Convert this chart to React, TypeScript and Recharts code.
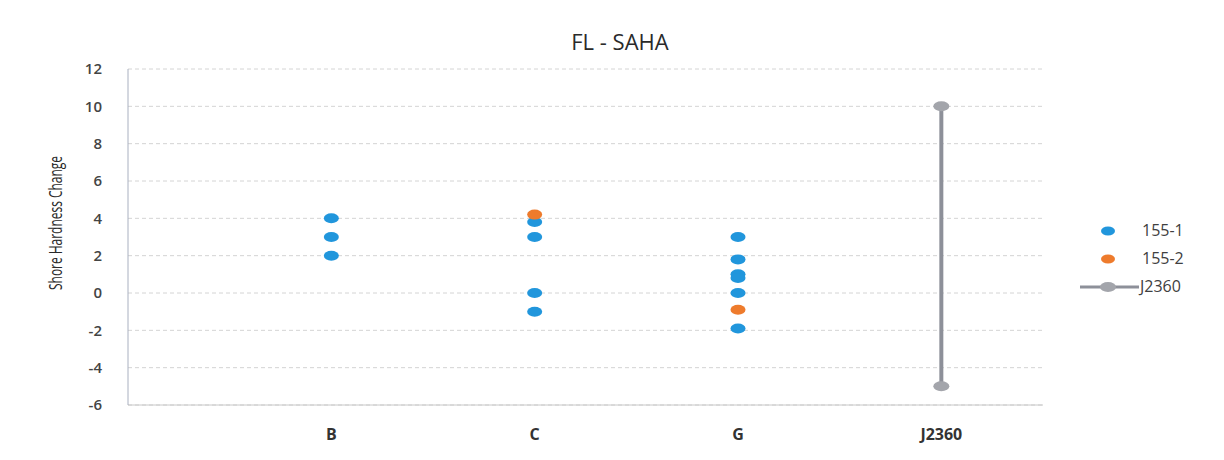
import { CartesianGrid, Scatter, ScatterChart, XAxis, YAxis } from 'recharts'

const categories = ['B', 'C', 'G', 'J2360']
const yTicks = [-6, -4, -2, 0, 2, 4, 6, 8, 10, 12]

// 155-1 readings per category
const s1B = [4, 3, 2]
const s1C = [3.8, 3, 0, -1]
const s1G = [3, 1.8, 1, 0.8, 0, -1.9]
// 155-2 readings per category
const s2C = [4.2]
const s2G = [-0.9]
// J2360 spec range (max, min)
const j2360Range = [10, -5]

const BLUE = '#2196dc'
const ORANGE = '#ee7b2c'
const GREY = '#8d9099'

const toPoints = (cat: string, vals: number[]) =>
  vals.map((v) => ({ x: categories.indexOf(cat) + 1, y: v }))

const data155_1 = [...toPoints('B', s1B), ...toPoints('C', s1C), ...toPoints('G', s1G)]
const data155_2 = [...toPoints('C', s2C), ...toPoints('G', s2G)]
const dataJ2360 = toPoints('J2360', j2360Range)

const Dot = (props: any) => (
  <ellipse cx={props.cx} cy={props.cy} rx={7.5} ry={5} fill={props.fill} />
)

const font = '"Open Sans", "DejaVu Sans", sans-serif'

const YLabel = (props: any) => {
  const vb = props.viewBox
  const cx = 55
  const cy = vb.y + vb.height / 2 - 14
  return (
    <text
      x={cx}
      y={cy}
      transform={`rotate(-90 ${cx} ${cy})`}
      textAnchor="middle"
      dominantBaseline="central"
      fontSize={19}
      fill="#2a2a2a"
      fontFamily={font}
      textLength={134}
      lengthAdjust="spacingAndGlyphs"
    >
      Shore Hardness Change
    </text>
  )
}

export default function App() {
  return (
    <div style={{ position: 'relative', width: 1224, height: 460, background: '#fff', fontFamily: font }}>
      <style>{'body{margin:0}'}</style>
      <div
        style={{
          position: 'absolute',
          left: 0,
          top: 26,
          width: 1240,
          textAlign: 'center',
          fontSize: 22,
          color: '#2a2a2a',
        }}
      >
        FL - SAHA
      </div>
      <ScatterChart
        width={1224}
        height={460}
        margin={{ top: 69, right: 181, bottom: 25, left: 0 }}
      >
        <CartesianGrid horizontal vertical={false} stroke="#d4d4d4" strokeDasharray="4 3" />
        <XAxis
          type="number"
          dataKey="x"
          domain={[0, 4.5]}
          ticks={[1, 2, 3, 4]}
          tickFormatter={(v: number) => categories[v - 1] ?? ''}
          height={30}
          axisLine={{ stroke: '#c8c8c8' }}
          tickLine={false}
          tickSize={0}
          tickMargin={24}
          tick={{ fontSize: 16, fontWeight: 700, fill: '#333', fontFamily: font }}
        />
        <YAxis
          type="number"
          dataKey="y"
          domain={[-6, 12]}
          ticks={yTicks}
          width={128}
          axisLine={{ stroke: '#a9b0c0' }}
          tickLine={false}
          tickSize={0}
          tickMargin={26}
          tick={{ fontSize: 15, fontWeight: 600, fill: '#444', fontFamily: font }}
          label={<YLabel />}
        />
        <Scatter
          name="J2360"
          data={dataJ2360}
          fill="#a3a5ab"
          line={{ stroke: GREY, strokeWidth: 4 }}
          shape={(p: any) => <ellipse cx={p.cx} cy={p.cy} rx={8} ry={5} fill="#a3a5ab" />}
          isAnimationActive={false}
        />
        <Scatter name="155-1" data={data155_1} fill={BLUE} shape={Dot} isAnimationActive={false} />
        <Scatter name="155-2" data={data155_2} fill={ORANGE} shape={Dot} isAnimationActive={false} />
      </ScatterChart>
      <svg
        width={140}
        height={90}
        style={{ position: 'absolute', left: 1075, top: 215 }}
      >
        <ellipse cx={33} cy={16} rx={7} ry={4.5} fill={BLUE} />
        <text x={67} y={21} fontSize={16} fill="#404040" fontFamily={font}>155-1</text>
        <ellipse cx={33} cy={44} rx={7} ry={4.5} fill={ORANGE} />
        <text x={67} y={49} fontSize={16} fill="#404040" fontFamily={font}>155-2</text>
        <line x1={5} y1={72} x2={64} y2={72} stroke={GREY} strokeWidth={3} />
        <ellipse cx={33} cy={72} rx={8} ry={5} fill="#a3a5ab" />
        <text x={65} y={77} fontSize={16} fill="#404040" fontFamily={font}>J2360</text>
      </svg>
    </div>
  )
}
